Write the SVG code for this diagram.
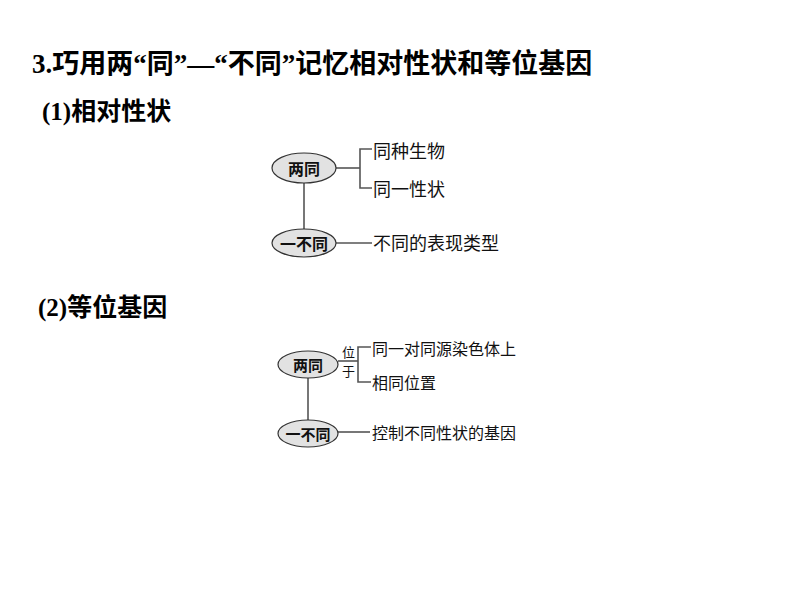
<svg xmlns="http://www.w3.org/2000/svg" width="794" height="596" viewBox="0 0 794 596">
<style>
.hd{font-family:"Noto Sans CJK SC","Liberation Sans",sans-serif;font-weight:bold;fill:#000}
.lat{font-family:"Liberation Serif",serif;font-weight:bold}
.node ellipse{fill:#e2e2e2;stroke:#333;stroke-width:1.2}
.nt{font-family:"Noto Sans CJK SC","Liberation Sans",sans-serif;font-weight:bold;fill:#111;text-anchor:middle;dominant-baseline:central}
.lb{font-family:"Noto Sans CJK SC","Liberation Sans",sans-serif;fill:#111;dominant-baseline:central}
.conn line,.conn polyline{stroke:#555;stroke-width:1.6;fill:none}
</style>
<rect width="794" height="596" fill="#fff"/>
<text class="hd" x="32" y="73" font-size="27"><tspan class="lat">3.</tspan>巧用两<tspan class="lat">“</tspan>同<tspan class="lat">”—“</tspan>不同<tspan class="lat">”</tspan>记忆相对性状和等位基因</text>
<text class="hd" x="42" y="120" font-size="25"><tspan class="lat">(1)</tspan>相对性状</text>
<text class="hd" x="38" y="316" font-size="25"><tspan class="lat">(2)</tspan>等位基因</text>

<g id="connectors" class="conn">
<line x1="304" y1="183" x2="304" y2="229"/>
<line x1="336" y1="168" x2="360" y2="168"/>
<polyline points="372,149 360,149 360,188 372,188"/>
<line x1="336" y1="243" x2="372" y2="243"/>
<line x1="308" y1="378" x2="308" y2="420"/>
<line x1="338" y1="361" x2="358" y2="361"/>
<polyline points="371,347 358,347 358,382 371,382"/>
<line x1="338" y1="432" x2="370" y2="432"/>
</g>

<g id="n1-liangtong" class="node"><ellipse cx="304" cy="168" rx="32" ry="15"/><text class="nt" x="304" y="168" font-size="16">两同</text></g>
<g id="n1-yibutong" class="node"><ellipse cx="304" cy="243" rx="32" ry="14"/><text class="nt" x="304" y="243" font-size="16">一不同</text></g>
<g id="n1-l1"><text class="lb" x="373" y="150" font-size="18">同种生物</text></g>
<g id="n1-l2"><text class="lb" x="373" y="188" font-size="18">同一性状</text></g>
<g id="n1-l3"><text class="lb" x="373" y="242" font-size="18">不同的表现类型</text></g>

<g id="n2-liangtong" class="node"><ellipse cx="308" cy="364.5" rx="30" ry="13.5"/><text class="nt" x="308" y="364.5" font-size="15">两同</text></g>
<g id="n2-yibutong" class="node"><ellipse cx="308" cy="433.5" rx="30" ry="13.5"/><text class="nt" x="308" y="433.5" font-size="15">一不同</text></g>
<g id="n2-weiyu"><text class="lb" x="342" y="351" font-size="13">位</text><text class="lb" x="342" y="370" font-size="13">于</text></g>
<g id="n2-l1"><text class="lb" x="372" y="348" font-size="16">同一对同源染色体上</text></g>
<g id="n2-l2"><text class="lb" x="372" y="382" font-size="16">相同位置</text></g>
<g id="n2-l3"><text class="lb" x="372" y="432" font-size="16">控制不同性状的基因</text></g>
</svg>
